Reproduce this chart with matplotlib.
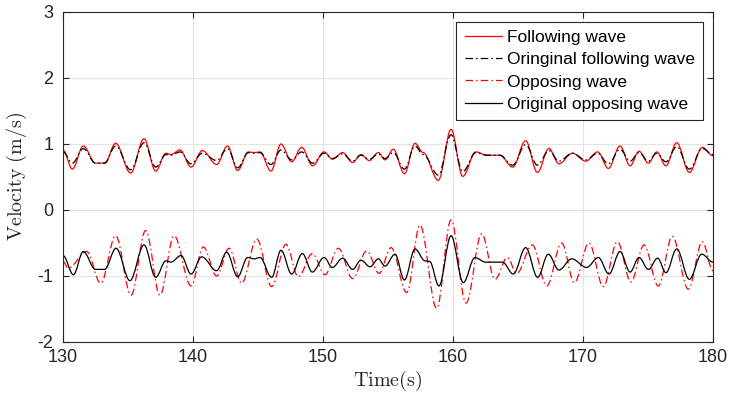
import matplotlib
matplotlib.use("Agg")
import matplotlib.pyplot as plt
from matplotlib.path import Path
from matplotlib.patches import PathPatch
from matplotlib.lines import Line2D

# ---- data (extrema) ----
t_fol = [130.0, 130.72, 131.56, 132.5, 133.2, 134.05, 135.2, 136.23, 137.13, 137.92,
         138.3, 139.0, 139.85, 140.72, 141.82, 142.65, 143.44, 144.26, 144.7, 145.15,
         146.0, 146.77, 147.59, 148.36, 149.2, 150.08, 150.72, 151.51, 152.28, 152.92,
         153.56, 154.26, 154.77, 155.41, 156.26, 157.08, 157.7, 158.87, 159.85, 160.75,
         161.75, 162.6, 163.6, 164.59, 165.59, 166.49, 167.38, 168.15, 169.18, 170.21,
         171.13, 171.95, 172.85, 173.62, 174.31, 175.03, 175.67, 176.38, 177.21, 178.18,
         179.18, 180.0]
v_fol = [0.91, 0.62, 0.97, 0.71, 0.71, 1.01, 0.56, 1.08, 0.59, 0.86,
         0.84, 0.91, 0.65, 0.90, 0.69, 0.97, 0.60, 0.88, 0.87, 0.88,
         0.59, 1.00, 0.73, 0.95, 0.67, 0.88, 0.77, 0.87, 0.72, 0.84,
         0.75, 0.87, 0.76, 0.92, 0.55, 1.01, 0.87, 0.45, 1.22, 0.51,
         0.88, 0.83, 0.83, 0.65, 1.05, 0.57, 0.93, 0.70, 0.86, 0.74,
         0.88, 0.63, 0.97, 0.67, 0.89, 0.71, 0.88, 0.67, 1.02, 0.57,
         0.95, 0.82]
v_fol_orig = [0.88, 0.71, 0.93, 0.71, 0.71, 0.97, 0.61, 1.02, 0.65, 0.84,
              0.83, 0.88, 0.70, 0.86, 0.75, 0.93, 0.64, 0.87, 0.86, 0.87,
              0.69, 0.91, 0.76, 0.88, 0.71, 0.86, 0.78, 0.85, 0.74, 0.83,
              0.77, 0.85, 0.78, 0.87, 0.62, 0.97, 0.84, 0.53, 1.14, 0.58,
              0.87, 0.83, 0.83, 0.68, 0.99, 0.68, 0.90, 0.74, 0.86, 0.76,
              0.86, 0.70, 0.92, 0.74, 0.87, 0.74, 0.86, 0.73, 0.96, 0.62,
              0.93, 0.84]

t_opp = [130.0, 130.4, 131.82, 132.9, 134.05, 135.23, 136.36, 137.46, 138.54, 139.85,
         140.79, 141.82, 142.78, 143.74, 144.9, 146.05, 147.15, 148.1, 149.18, 150.15,
         151.18, 152.28, 153.36, 154.31, 155.23, 156.44, 157.46, 158.74, 159.85, 161.0,
         162.21, 163.23, 164.18, 164.9, 166.1, 167.21, 168.36, 169.33, 170.46, 171.56,
         172.64, 173.69, 174.69, 175.79, 176.87, 178.1, 179.18, 180.0]
v_opp = [-0.78, -0.88, -0.63, -1.11, -0.39, -1.29, -0.31, -1.29, -0.39, -1.15,
         -0.56, -1.00, -0.58, -1.11, -0.44, -1.16, -0.52, -1.01, -0.66, -0.98,
         -0.58, -1.04, -0.62, -0.96, -0.57, -1.25, -0.23, -1.49, -0.15, -1.41,
         -0.36, -1.05, -0.72, -0.96, -0.53, -1.15, -0.50, -1.10, -0.50, -1.16,
         -0.48, -1.09, -0.53, -1.15, -0.40, -1.20, -0.48, -0.92]

t_opp_orig = [130.0, 130.8, 131.56, 132.5, 133.2, 134.08, 135.15, 136.23, 137.13, 137.92,
              138.3, 139.08, 139.85, 140.67, 141.82, 142.59, 143.44, 144.2, 144.7, 145.15,
              146.05, 146.77, 147.59, 148.41, 149.18, 150.08, 150.72, 151.51, 152.28, 152.92,
              153.62, 154.26, 154.77, 155.54, 156.26, 157.08, 157.85, 158.2, 158.92, 159.85,
              160.79, 161.69, 162.5, 163.8, 164.64, 165.59, 166.51, 167.33, 168.15, 169.13,
              170.28, 171.18, 172.0, 172.85, 173.62, 174.31, 175.03, 175.74, 176.38, 177.21,
              178.18, 179.13, 180.0]
v_opp_orig = [-0.69, -0.98, -0.63, -0.90, -0.90, -0.58, -1.07, -0.53, -1.02, -0.77,
              -0.79, -0.69, -0.97, -0.71, -0.92, -0.64, -1.01, -0.72, -0.74, -0.72,
              -1.02, -0.61, -0.97, -0.66, -0.94, -0.72, -0.87, -0.73, -0.90, -0.76,
              -0.86, -0.74, -0.85, -0.67, -1.06, -0.59, -0.77, -0.78, -1.15, -0.39,
              -1.10, -0.72, -0.79, -0.79, -0.97, -0.57, -1.02, -0.67, -0.91, -0.74,
              -0.87, -0.72, -0.97, -0.63, -0.94, -0.72, -0.90, -0.73, -0.95, -0.59,
              -1.05, -0.67, -0.79]

labels = ["Following wave", "Oringinal following wave", "Opposing wave", "Original opposing wave"]
x_ticks = [130, 140, 150, 160, 170, 180]
y_ticks = [-2, -1, 0, 1, 2, 3]

# ---- style ----
plt.rcParams["mathtext.fontset"] = "cm"
plt.rcParams["font.family"] = ["Liberation Sans", "DejaVu Sans"]
plt.rcParams["axes.unicode_minus"] = False
AX = "#262626"
DASHDOT = (0, (6, 2.5, 1.2, 2.5))
HANDLE = 0.363  # Bezier handle fraction giving a cosine-like swing between extrema


def smooth_path(t, v):
    verts = [(t[0], v[0])]
    codes = [Path.MOVETO]
    for i in range(len(t) - 1):
        dt = t[i + 1] - t[i]
        verts += [(t[i] + HANDLE * dt, v[i]), (t[i + 1] - HANDLE * dt, v[i + 1]), (t[i + 1], v[i + 1])]
        codes += [Path.CURVE4] * 3
    return Path(verts, codes)


fig = plt.figure(figsize=(7.3, 4.01), dpi=100)
ax = fig.add_axes([63 / 730, 1 - 342 / 401, 650 / 730, 330 / 401])
ax.set_xlim(130, 180)
ax.set_ylim(-2, 3)

series = [
    (t_fol, v_fol, "red", "-"),
    (t_fol, v_fol_orig, "black", DASHDOT),
    (t_opp, v_opp, "red", DASHDOT),
    (t_opp_orig, v_opp_orig, "black", "-"),
]
handles = []
for (t, v, c, ls), lab in zip(series, labels):
    ax.add_patch(PathPatch(smooth_path(t, v), fill=False, edgecolor=c, lw=0.9, linestyle=ls))
    handles.append(Line2D([], [], color=c, lw=0.9, linestyle=ls, label=lab))

ax.set_xticks(x_ticks)
ax.set_yticks(y_ticks)
ax.grid(True, color="#e3e3e3", lw=0.8)
ax.set_axisbelow(True)
ax.tick_params(direction="in", length=4.5, width=0.8, colors=AX, labelsize=13,
               top=True, right=True, labelcolor=AX)
ax.tick_params(axis="x", pad=5)
ax.tick_params(axis="y", pad=7)
for s in ax.spines.values():
    s.set_color(AX)
    s.set_linewidth(0.8)

ax.set_xlabel(r"$\mathrm{Time(s)}$", fontsize=14.5, color=AX, labelpad=2)
ax.set_ylabel(r"$\mathrm{Velocity\ (m/s)}$", fontsize=14.5, color=AX, labelpad=6)

leg = ax.legend(handles=handles, loc="upper right", fontsize=12.5, frameon=True,
                fancybox=False, framealpha=1, edgecolor=AX, handlelength=2.1,
                handletextpad=0.3, labelspacing=0.4, borderpad=0.5, borderaxespad=0.55)
leg.get_frame().set_linewidth(0.8)
for txt in leg.get_texts():
    txt.set_color("black")

fig.savefig("out.png", dpi=100)
